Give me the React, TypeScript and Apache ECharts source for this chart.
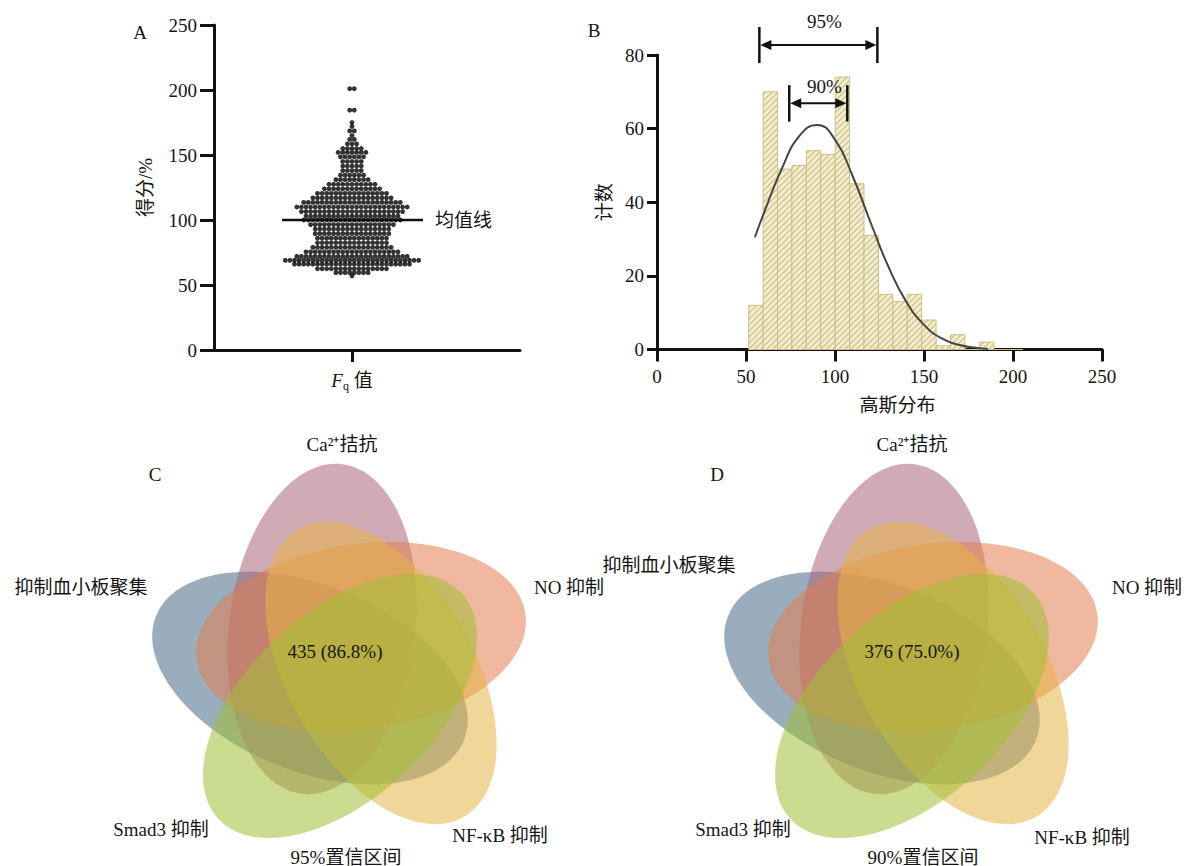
import React, { useEffect, useRef } from 'react';
import * as echarts from 'echarts';

// ---------- Panel A: score swarm ----------
const scoreTicks = [0, 50, 100, 150, 200, 250];
const swarmRowY = [201, 184.5, 175, 172, 168.5, 165, 162, 158.5, 155, 152, 148.5, 145, 141.5, 138, 134.5, 131, 127.5, 124, 120.5, 117, 113.5, 110, 106.5, 103, 100, 96.5, 93, 89.5, 86, 82.5, 79, 75.5, 72, 69, 66, 62.5, 59.5, 57];
const swarmRowCount = [2, 2, 1, 1, 2, 1, 2, 3, 5, 7, 6, 5, 5, 5, 6, 8, 11, 13, 16, 18, 22, 25, 23, 21, 22, 19, 17, 17, 16, 16, 18, 21, 25, 30, 26, 16, 8, 1];
const meanValue = 100;
const meanSpan = [-70, 71];
const meanLabel = '均值线';

// ---------- Panel B: histogram + gaussian ----------
const binEdges = [51.5, 59.6, 67.7, 75.8, 83.9, 92.0, 100.1, 108.2, 116.3, 124.4, 132.5, 140.6, 148.7, 156.8, 164.9, 173.0, 181.1, 189.2, 197.3, 205.4];
const binCount = [12, 70, 49, 50, 54, 53, 74, 45, 31, 15, 13, 15, 8, 1, 4, 0, 2, 0, 0];
const gaussX = [55, 60, 70, 80, 90, 100, 110, 120, 130, 140, 150, 160, 170, 180, 186];
const gaussY = [30.5, 37, 49, 58, 61, 57, 47, 34.5, 22.5, 13, 6.7, 3, 1.2, 0.4, 0.15];
const ciLabels = ['95%', '90%'];
const ciLow = [57.5, 74.3];
const ciHigh = [123.8, 106.9];
const ciArrowY = [82.7, 66.9];
const ciBarBottom = [77.8, 61.9];
const ciBarTop = [87.6, 71.8];
const ciTextX = [94, 94];
const ciTextY = [89, 71.4];

// ---------- Panels C/D: Venn ----------
const vennSetNames = ['抑制血小板聚集', 'Ca²⁺拮抗', 'NO 抑制', 'NF-κB 抑制', 'Smad3 抑制'];
const coreCount = [435, 376];
const corePct = ['86.8%', '75.0%'];
const ciTitles = ['95%置信区间', '90%置信区间'];
const panelLetters = ['A', 'B', 'C', 'D'];

const FONT = '"Liberation Serif", "Times New Roman", "Noto Sans CJK SC", serif';
const TXT = '#151515';

const ELL_A = 166;
const ELL_B = 93;
const ELL_ALPHA = 0.55;
const D_SHIFT = 572;
const vennShapes = [
  { cx: 310, cy: 678, rot: 112, rgb: '70,105,135' },
  { cx: 322, cy: 629, rot: 7, rgb: '170,100,120' },
  { cx: 361, cy: 637, rot: 82, rgb: '225,125,80' },
  { cx: 381, cy: 673, rot: 150, rgb: '230,180,70' },
  { cx: 340, cy: 706, rot: 227, rgb: '160,192,52' },
];
const vennLabelPos = [
  [[81, 587], [342, 444], [569, 587], [500, 835], [161, 829]],
  [[669, 565], [912, 444], [1147, 587], [1082, 837], [743, 829]],
];
const corePos = [[335, 651], [912, 651]];
const ciTitlePos = [[346, 857], [923, 857]];
const letterPos = [[140, 32], [594, 30], [155, 474], [717, 474]];

function hatch(): string {
  const c = document.createElement('canvas');
  c.width = 6;
  c.height = 6;
  const g = c.getContext('2d');
  if (!g) return '#efe7c6';
  g.fillStyle = '#f3edd3';
  g.fillRect(0, 0, 6, 6);
  g.strokeStyle = '#d2c488';
  g.lineWidth = 1.3;
  g.beginPath();
  g.moveTo(0, 6); g.lineTo(6, 0);
  g.moveTo(-1, 1); g.lineTo(1, -1);
  g.moveTo(5, 7); g.lineTo(7, 5);
  g.stroke();
  return c.toDataURL();
}

function textEl(x: number, y: number, text: string, size = 19, extra: any = {}) {
  return {
    type: 'text', x, y, silent: true, z: 10,
    style: {
      text, fontSize: size, fontFamily: FONT, fill: TXT,
      align: 'center', verticalAlign: 'middle', textAlign: 'center', textVerticalAlign: 'middle',
      ...extra,
    },
  };
}

function buildOption() {
  const swarm: number[][] = [];
  swarmRowY.forEach((y, i) => {
    const n = swarmRowCount[i];
    for (let k = 0; k < n; k++) swarm.push([(k - (n - 1) / 2) * 4.6, y]);
  });
  const histData = binCount.map((c, i) => [binEdges[i], binEdges[i + 1], c]);
  const pat = hatch();
  const fill: any = pat.startsWith('#') ? pat : { image: pat, repeat: 'repeat', imageWidth: 6, imageHeight: 6 };

  const axisLineStyle = { color: '#111', width: 3 };
  const labelStyle = { color: TXT, fontSize: 19, fontFamily: FONT };

  const graphic: any[] = [];
  [0, 1].forEach((p) => {
    vennShapes.forEach((s) => {
      graphic.push({
        type: 'ellipse', silent: true, z: 1,
        x: s.cx + p * D_SHIFT, y: s.cy,
        rotation: -s.rot * Math.PI / 180,
        shape: { cx: 0, cy: 0, rx: ELL_B, ry: ELL_A },
        style: { fill: `rgba(${s.rgb},${ELL_ALPHA})` },
      });
    });
  });
  [0, 1].forEach((p) => {
    vennSetNames.forEach((name, i) => {
      const [x, y] = vennLabelPos[p][i];
      graphic.push(textEl(x, y, name));
    });
    graphic.push(textEl(corePos[p][0], corePos[p][1], `${coreCount[p]} (${corePct[p]})`));
    graphic.push(textEl(ciTitlePos[p][0], ciTitlePos[p][1], ciTitles[p]));
  });
  panelLetters.forEach((l, i) => graphic.push(textEl(letterPos[i][0], letterPos[i][1], l)));

  return {
    animation: false,
    backgroundColor: '#fff',
    textStyle: { fontFamily: FONT },
    grid: [
      { left: 214, top: 25, right: 1186 - 520, bottom: 866 - 350 },
      { left: 657, top: 55, right: 1186 - 1102, bottom: 866 - 349.5 },
    ],
    xAxis: [
      {
        gridIndex: 0, type: 'value', min: -138, max: 168,
        splitLine: { show: false },
        axisLine: { onZero: false, lineStyle: axisLineStyle },
        axisTick: { show: true, customValues: [0], length: 12, lineStyle: { color: '#111', width: 3 } },
        axisLabel: {
          customValues: [0], margin: 18,
          formatter: () => '{f|F}{q|q}{z| 值}',
          rich: {
            f: { fontSize: 19, fontStyle: 'italic', fontFamily: FONT, color: TXT, lineHeight: 24, verticalAlign: 'middle' },
            q: { fontSize: 12, fontFamily: FONT, color: TXT, lineHeight: 12, verticalAlign: 'bottom' },
            z: { fontSize: 19, fontFamily: FONT, color: TXT, lineHeight: 24, verticalAlign: 'middle' },
          },
        },
      },
      {
        gridIndex: 1, type: 'value', min: 0, max: 250, interval: 50,
        splitLine: { show: false },
        axisLine: { onZero: false, lineStyle: axisLineStyle },
        axisTick: { length: 12, lineStyle: { color: '#111', width: 3 } },
        axisLabel: { ...labelStyle, margin: 17 },
        name: '高斯分布', nameLocation: 'middle', nameGap: 46,
        nameTextStyle: { ...labelStyle, padding: [0, 0, 0, 36] },
      },
    ],
    yAxis: [
      {
        gridIndex: 0, type: 'value', min: 0, max: 250, interval: 50,
        splitLine: { show: false },
        axisLine: { onZero: false, lineStyle: axisLineStyle },
        axisTick: { length: 14, lineStyle: { color: '#111', width: 3 } },
        axisLabel: { ...labelStyle, margin: 17, formatter: (v: number) => (scoreTicks.includes(v) ? String(v) : '') },
        name: '得分/%', nameLocation: 'middle', nameGap: 59, nameTextStyle: labelStyle,
      },
      {
        gridIndex: 1, type: 'value', min: 0, max: 80, interval: 20,
        splitLine: { show: false },
        axisLine: { onZero: false, lineStyle: axisLineStyle },
        axisTick: { length: 10, lineStyle: { color: '#111', width: 3 } },
        axisLabel: { ...labelStyle, margin: 13 },
        name: '计数', nameLocation: 'middle', nameGap: 43, nameTextStyle: labelStyle,
      },
    ],
    series: [
      {
        type: 'scatter', xAxisIndex: 0, yAxisIndex: 0, data: swarm,
        symbol: 'circle', symbolSize: 4.8, itemStyle: { color: '#000' }, silent: true, z: 3,
      },
      {
        type: 'line', xAxisIndex: 0, yAxisIndex: 0,
        data: meanSpan.map((x) => [x, meanValue]),
        symbol: 'none', lineStyle: { color: '#111', width: 2.5 }, z: 4, silent: true,
        endLabel: { show: true, formatter: meanLabel, distance: 12, ...labelStyle },
      },
      {
        type: 'custom', xAxisIndex: 1, yAxisIndex: 1, data: histData,
        encode: { x: [0, 1], y: 2 }, silent: true, z: 2,
        renderItem: (_p: any, api: any) => {
          const a = api.coord([api.value(0), api.value(2)]);
          const b = api.coord([api.value(1), 0]);
          return {
            type: 'rect',
            shape: { x: a[0], y: a[1], width: b[0] - a[0], height: b[1] - a[1] },
            style: { fill, stroke: '#cdbf82', lineWidth: 1 },
          };
        },
      },
      {
        type: 'line', xAxisIndex: 1, yAxisIndex: 1,
        data: gaussX.map((x, i) => [x, gaussY[i]]),
        smooth: true, symbol: 'none', lineStyle: { color: '#444', width: 2 }, z: 5, silent: true,
      },
      {
        type: 'custom', xAxisIndex: 1, yAxisIndex: 1, silent: true, z: 6, clip: false,
        data: ciLabels.map((_, i) => [ciLow[i], ciHigh[i], ciArrowY[i], ciBarBottom[i], ciBarTop[i], ciTextX[i], ciTextY[i]]),
        encode: { x: [0, 1], y: [3, 4] },
        renderItem: (params: any, api: any) => {
          const lo = api.value(0), hi = api.value(1), ay = api.value(2);
          const bb = api.value(3), bt = api.value(4), tx = api.value(5), ty = api.value(6);
          const L = api.coord([lo, ay]);
          const R = api.coord([hi, ay]);
          const Lb = api.coord([lo, bb]);
          const Lt = api.coord([lo, bt]);
          const Rb = api.coord([hi, bb]);
          const Rt = api.coord([hi, bt]);
          const T = api.coord([tx, ty]);
          const st = { stroke: '#111', lineWidth: 2 };
          return {
            type: 'group',
            children: [
              { type: 'line', shape: { x1: L[0] + 6, y1: L[1], x2: R[0] - 6, y2: R[1] }, style: st },
              { type: 'line', shape: { x1: Lb[0], y1: Lb[1], x2: Lt[0], y2: Lt[1] }, style: { ...st, lineWidth: 2.5 } },
              { type: 'line', shape: { x1: Rb[0], y1: Rb[1], x2: Rt[0], y2: Rt[1] }, style: { ...st, lineWidth: 2.5 } },
              { type: 'polygon', shape: { points: [[L[0] + 1, L[1]], [L[0] + 12, L[1] - 5], [L[0] + 12, L[1] + 5]] }, style: { fill: '#111' } },
              { type: 'polygon', shape: { points: [[R[0] - 1, R[1]], [R[0] - 12, R[1] - 5], [R[0] - 12, R[1] + 5]] }, style: { fill: '#111' } },
              {
                type: 'text', x: T[0], y: T[1],
                style: {
                  text: ciLabels[params.dataIndex], fontSize: 19, fontFamily: FONT, fill: TXT,
                  align: 'center', verticalAlign: 'middle', textAlign: 'center', textVerticalAlign: 'middle',
                },
              },
            ],
          };
        },
      },
    ],
    graphic,
  };
}

export default function App() {
  const ref = useRef<HTMLDivElement>(null);
  useEffect(() => {
    if (!ref.current) return;
    const chart = echarts.init(ref.current, null, { renderer: 'svg' });
    chart.setOption(buildOption() as any);
    return () => chart.dispose();
  }, []);
  return <div ref={ref} style={{ position: 'absolute', left: 0, top: 0, width: 1186, height: 866, background: '#fff' }} />;
}
